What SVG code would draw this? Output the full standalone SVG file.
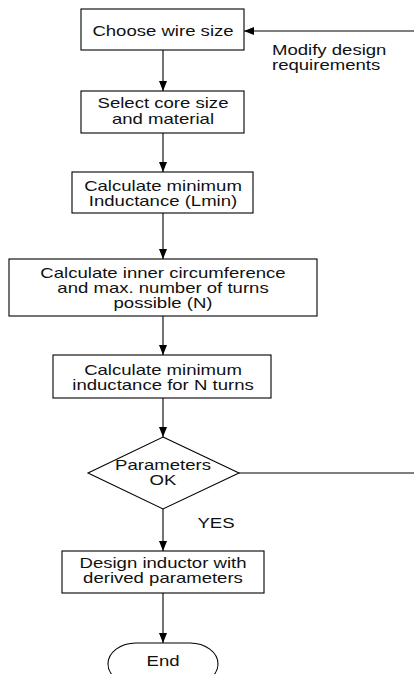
<svg xmlns="http://www.w3.org/2000/svg" width="414" height="674" viewBox="0 0 414 674">
<style>
.box{fill:#fff;stroke:#000;stroke-width:1.1}
.ln{fill:none;stroke:#000;stroke-width:1.1}
.t{font-family:"Liberation Sans",Arial,sans-serif;font-size:14.5px;fill:#111;text-anchor:middle}
.tl{text-anchor:start}
</style>
<defs>
<marker id="ah" markerWidth="10" markerHeight="8" refX="10" refY="4" orient="auto" markerUnits="userSpaceOnUse">
<path d="M0,0 L10,4 L0,8 Z" fill="#000"/>
</marker>
</defs>
<rect width="414" height="674" fill="#fff"/>
<g id="connectors">
<line class="ln" x1="414" y1="31" x2="244" y2="31" marker-end="url(#ah)"/>
<line class="ln" x1="163" y1="50" x2="163" y2="91" marker-end="url(#ah)"/>
<line class="ln" x1="163" y1="133" x2="163" y2="172" marker-end="url(#ah)"/>
<line class="ln" x1="163" y1="213" x2="163" y2="259" marker-end="url(#ah)"/>
<line class="ln" x1="163" y1="316" x2="163" y2="355" marker-end="url(#ah)"/>
<line class="ln" x1="163" y1="398" x2="163" y2="437" marker-end="url(#ah)"/>
<line class="ln" x1="239" y1="473" x2="414" y2="473"/>
<line class="ln" x1="163" y1="509" x2="163" y2="551" marker-end="url(#ah)"/>
<line class="ln" x1="163" y1="593" x2="163" y2="643" marker-end="url(#ah)"/>
<text class="t tl" transform="translate(272 55) scale(1.28 1)">Modify design</text>
<text class="t tl" transform="translate(272 70) scale(1.28 1)">requirements</text>
<text class="t" transform="translate(216 528) scale(1.28 1)">YES</text>
</g>
<g id="n1">
<rect class="box" x="81" y="9" width="163" height="41"/>
<text class="t" transform="translate(163 36) scale(1.28 1)">Choose wire size</text>
</g>
<g id="n2">
<rect class="box" x="81" y="91" width="163" height="42"/>
<text class="t" transform="translate(163 108) scale(1.28 1)">Select core size</text>
<text class="t" transform="translate(163 124) scale(1.28 1)">and material</text>
</g>
<g id="n3">
<rect class="box" x="72" y="172" width="181" height="41"/>
<text class="t" transform="translate(163 191) scale(1.28 1)">Calculate minimum</text>
<text class="t" transform="translate(163 206) scale(1.28 1)">Inductance (Lmin)</text>
</g>
<g id="n4">
<rect class="box" x="9" y="259" width="308" height="57"/>
<text class="t" transform="translate(163 278) scale(1.28 1)">Calculate inner circumference</text>
<text class="t" transform="translate(163 293) scale(1.28 1)">and max. number of turns</text>
<text class="t" transform="translate(163 308) scale(1.28 1)">possible (N)</text>
</g>
<g id="n5">
<rect class="box" x="53" y="355" width="218" height="43"/>
<text class="t" transform="translate(163 375) scale(1.28 1)">Calculate minimum</text>
<text class="t" transform="translate(163 390) scale(1.28 1)">inductance for N turns</text>
</g>
<g id="n6">
<polygon class="box" points="163,437 239,473 163,509 88,473"/>
<text class="t" transform="translate(163 470) scale(1.28 1)">Parameters</text>
<text class="t" transform="translate(163 485) scale(1.28 1)">OK</text>
</g>
<g id="n7">
<rect class="box" x="62" y="551" width="202" height="42"/>
<text class="t" transform="translate(163 568) scale(1.28 1)">Design inductor with</text>
<text class="t" transform="translate(163 583) scale(1.28 1)">derived parameters</text>
</g>
<g id="n8">
<rect class="box" x="108" y="643" width="110" height="42" rx="28" ry="21"/>
<text class="t" transform="translate(163 666) scale(1.28 1)">End</text>
</g>
</svg>
